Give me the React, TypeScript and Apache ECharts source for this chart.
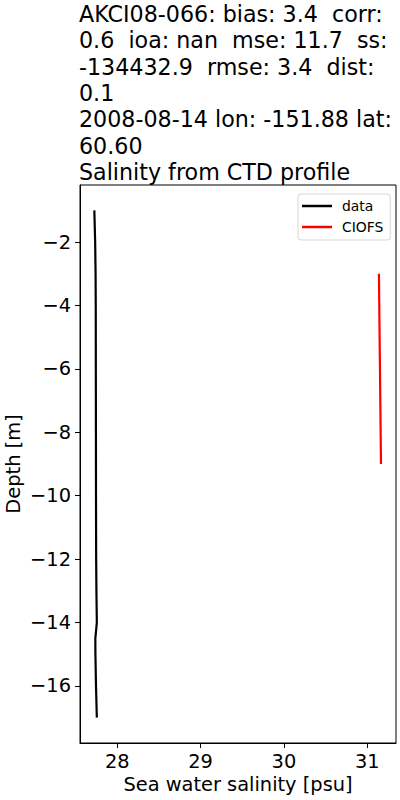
import React, { useEffect, useRef } from "react";
import * as echarts from "echarts";

const titleLines = [
  "AKCI08-066: bias: 3.4  corr:",
  "0.6  ioa: nan  mse: 11.7  ss:",
  "-134432.9  rmse: 3.4  dist:",
  "0.1",
  "2008-08-14 lon: -151.88 lat:",
  "60.60",
  "Salinity from CTD profile",
];

const dataDepth = [-1, -2, -3, -4, -6, -8, -10, -12, -13, -14, -14.5, -15, -16, -17];
const dataSalinity = [27.725, 27.735, 27.74, 27.742, 27.743, 27.744, 27.745, 27.747, 27.75, 27.755, 27.737, 27.738, 27.745, 27.755];

const modelDepth = [-3, -9];
const modelSalinity = [31.14, 31.165];

const xTicks = [28, 29, 30, 31];
const yTicks = [-2, -4, -6, -8, -10, -12, -14, -16];

const FONT = "DejaVu Sans";
const fmt = (v: number) => String(v).replace("-", "\u2212");

export default function App() {
  const ref = useRef<HTMLDivElement>(null);
  useEffect(() => {
    document.body.style.margin = "0";
    const chart = echarts.init(ref.current!, null, { renderer: "svg" });
    chart.setOption({
      animation: false,
      backgroundColor: "#fff",
      title: {
        text: titleLines.join("\n"),
        left: 79,
        top: 1,
        padding: [0, 0, 0, 0],
        textStyle: {
          fontFamily: FONT,
          fontSize: 22.2,
          lineHeight: 26.3,
          fontWeight: "normal",
          color: "#000",
        },
      },
      legend: {
        orient: "vertical",
        left: 298,
        top: 194,
        icon: "rect",
        itemWidth: 30,
        itemHeight: 2.5,
        itemGap: 5,
        padding: [4, 7, 5, 4],
        borderColor: "#d6d6d6",
        borderWidth: 1,
        borderRadius: 3,
        backgroundColor: "#fff",
        textStyle: { fontFamily: FONT, fontSize: 13.9, color: "#000", lineHeight: 16, padding: [0, 0, 0, 5] },
        data: ["data", "CIOFS"],
      },
      grid: {
        left: 80,
        right: 4,
        top: 185,
        bottom: 57,
        containLabel: false,
        outerBoundsMode: "none",
        show: true,
        borderColor: "#000",
        borderWidth: 1,
        backgroundColor: "transparent",
      },
      xAxis: {
        type: "value",
        min: 27.553,
        max: 31.345,
        name: "Sea water salinity [psu]",
        nameLocation: "middle",
        nameGap: 32,
        nameMoveOverlap: false,
        nameTextStyle: { fontFamily: FONT, fontSize: 19.4, color: "#000" },
        axisLine: { show: true, onZero: false, lineStyle: { color: "#000", width: 1 } },
        axisTick: { show: true, inside: false, length: 5, customValues: xTicks, lineStyle: { color: "#000" } },
        axisLabel: { customValues: xTicks, formatter: fmt, fontFamily: FONT, fontSize: 19.4, color: "#000", margin: 9 },
        splitLine: { show: false },
      },
      yAxis: {
        type: "value",
        min: -17.8,
        max: -0.2,
        name: "Depth [m]",
        nameLocation: "middle",
        nameGap: 57,
        nameMoveOverlap: false,
        nameTextStyle: { fontFamily: FONT, fontSize: 19.4, color: "#000" },
        axisLine: { show: true, onZero: false, lineStyle: { color: "#000", width: 1 } },
        axisTick: { show: true, inside: false, length: 5, customValues: yTicks, lineStyle: { color: "#000" } },
        axisLabel: { customValues: yTicks, formatter: fmt, fontFamily: FONT, fontSize: 19.4, color: "#000", margin: 9 },
        splitLine: { show: false },
      },
      series: [
        {
          name: "data",
          type: "line",
          data: dataDepth.map((d, i) => [dataSalinity[i], d]),
          showSymbol: false,
          symbol: "none",
          lineStyle: { color: "#000", width: 2.2 },
          itemStyle: { color: "#000" },
        },
        {
          name: "CIOFS",
          type: "line",
          data: modelDepth.map((d, i) => [modelSalinity[i], d]),
          showSymbol: false,
          symbol: "none",
          lineStyle: { color: "#ff0000", width: 2.2 },
          itemStyle: { color: "#ff0000" },
        },
      ],
    });
    return () => chart.dispose();
  }, []);
  return <div ref={ref} style={{ width: 400, height: 800 }} />;
}
